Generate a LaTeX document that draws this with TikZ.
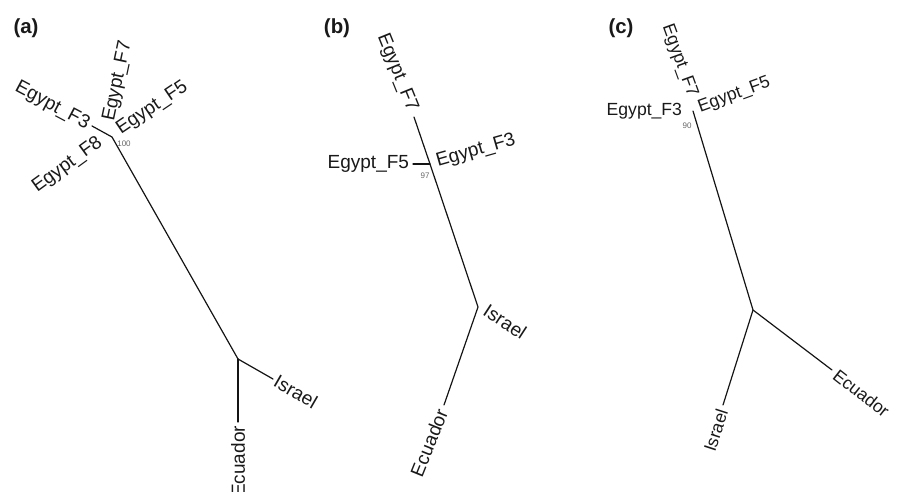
\documentclass[tikz,border=0pt]{standalone}
\usepackage{fontspec}
\setmainfont{Liberation Sans}
\tikzset{
  branch/.style={line width=0.6pt, draw=black!92, line cap=round},
  taxon/.style={font=\fontsize{9.5}{11}\selectfont, text=black!90, inner sep=0.8pt},
  taxonsmall/.style={taxon, font=\fontsize{8.8}{10}\selectfont},
  support/.style={font=\fontsize{4}{5}\selectfont, text=black!60, inner sep=0pt},
  panel/.style={font=\fontsize{10.2}{12}\selectfont\bfseries, text=black!90, inner sep=0pt},
}
\begin{document}
\begin{tikzpicture}[x=0.5pt,y=-0.5pt]
\useasboundingbox (0,0) rectangle (899,492);
\clip (0,0) rectangle (899,492);

% ---------- tree (a) ----------
\node[panel] (pa) at (26,28) {(a)};
\coordinate (aEg) at (112,137);
\coordinate (aF3) at (92,126);
\coordinate (aRoot) at (238,359);
\coordinate (aIsr) at (273,379);
\coordinate (aEcu) at (238,422);
\draw[branch] (aF3) -- (aEg) -- (aRoot) -- (aIsr);
\draw[branch] (aRoot) -- (aEcu);
\node[support] (sa) at (124,144) {100};
\node[taxon, anchor=east, rotate=-28] (aF3lab) at (90,126) {Egypt\_F3};
\node[taxon, anchor=west, rotate=78] (aF7lab) at (109,123) {Egypt\_F7};
\node[taxon, anchor=west, rotate=34] (aF5lab) at (117,132) {Egypt\_F5};
\node[taxon, anchor=east, rotate=36] (aF8lab) at (102,140) {Egypt\_F8};
\node[taxon, anchor=west, rotate=-30] (aIsrlab) at (274,379) {Israel};
\node[taxon, anchor=east, rotate=90] (aEculab) at (238,424) {Ecuador};

% ---------- tree (b) ----------
\node[panel] (pb) at (337,28) {(b)};
\coordinate (bF7) at (414,117);
\coordinate (bEg) at (430,164);
\coordinate (bF5) at (413,164);
\coordinate (bRoot) at (478,307);
\coordinate (bEcu) at (444,405);
\draw[branch] (bF7) -- (bEg) -- (bRoot) -- (bEcu);
\draw[branch] (bF5) -- (bEg);
\node[support] (sb) at (425,176) {97};
\node[taxon, anchor=east, rotate=-68] (bF7lab) at (413,112) {Egypt\_F7};
\node[taxon, anchor=east] (bF5lab) at (411,164) {Egypt\_F5};
\node[taxon, anchor=west, rotate=16] (bF3lab) at (435,163) {Egypt\_F3};
\node[taxon, anchor=west, rotate=-33] (bIsrlab) at (484,308) {Israel};
\node[taxon, anchor=east, rotate=68] (bEculab) at (443,408) {Ecuador};

% ---------- tree (c) ----------
\node[panel] (pc) at (621,28) {(c)};
\coordinate (cEg) at (693,111);
\coordinate (cRoot) at (753,310);
\coordinate (cIsr) at (723,405);
\coordinate (cEcu) at (832,370);
\draw[branch] (cEg) -- (cRoot) -- (cIsr);
\draw[branch] (cRoot) -- (cEcu);
\node[support] (sc) at (687,126) {90};
\node[taxonsmall, anchor=east] (cF3lab) at (684,111) {Egypt\_F3};
\node[taxonsmall, anchor=east, rotate=-70] (cF7lab) at (693,98) {Egypt\_F7};
\node[taxonsmall, anchor=west, rotate=20] (cF5lab) at (697,109) {Egypt\_F5};
\node[taxonsmall, anchor=east, rotate=72] (cIsrlab) at (723,408) {Israel};
\node[taxonsmall, anchor=west, rotate=-38] (cEculab) at (834,372) {Ecuador};
\end{tikzpicture}
\end{document}
